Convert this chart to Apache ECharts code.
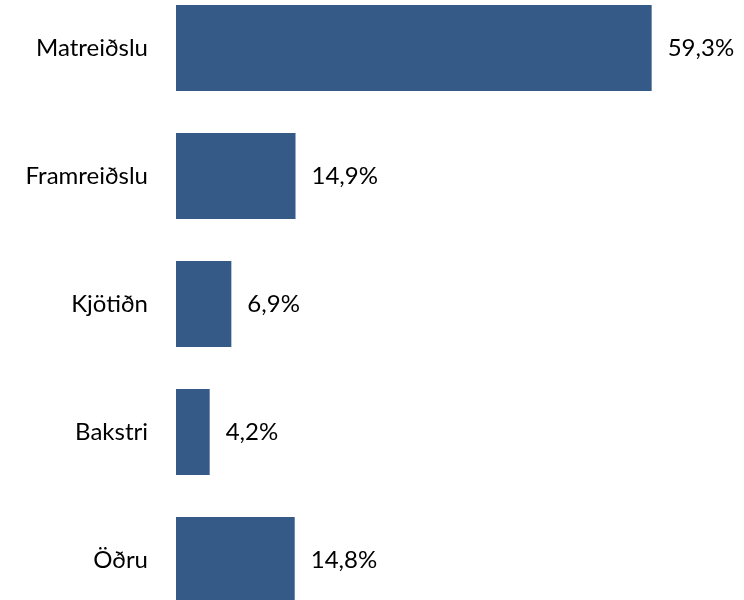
<!DOCTYPE html>
<html>
<head>
<meta charset="utf-8">
<script src="https://cdn.jsdelivr.net/npm/echarts@6/dist/echarts.min.js"></script>
<style>
  html, body { margin: 0; padding: 0; background: #fff; overflow: hidden; }
  /* the original is cropped: plot runs a little past the top and bottom edges */
  #chart { position: absolute; left: 0; top: -16px; width: 744px; height: 640px; }
</style>
</head>
<body>
<div id="chart"></div>
<script>
  // categories top to bottom
  const categories = ["Matreiðslu", "Framreiðslu", "Kjötiðn", "Bakstri", "Öðru"];
  const shares = [59.3, 14.9, 6.9, 4.2, 14.8];

  const chart = echarts.init(document.getElementById("chart"));
  const font = "Lato, 'Open Sans', sans-serif";

  const option = {
    animation: false,
    grid: {
      left: 176,
      top: 0,
      width: 561.5,
      height: 640,
      containLabel: false,
    },
    xAxis: {
      type: "value",
      min: 0,
      max: 70,
      show: false,
    },
    yAxis: {
      type: "category",
      data: categories,
      inverse: true,
      axisLine: { show: false },
      axisTick: { show: false },
      axisLabel: {
        margin: 28,
        color: "#000",
        fontSize: 24,
        fontFamily: font,
      },
    },
    series: [
      {
        type: "bar",
        data: shares,
        barCategoryGap: "33%",
        itemStyle: { color: "#355A87" },
        label: {
          show: true,
          position: "right",
          distance: 16,
          color: "#000",
          fontSize: 24,
          fontFamily: font,
          formatter: (p) => p.value.toFixed(1).replace(".", ",") + "%",
        },
      },
    ],
  };
  chart.setOption(option);
</script>
</body>
</html>
